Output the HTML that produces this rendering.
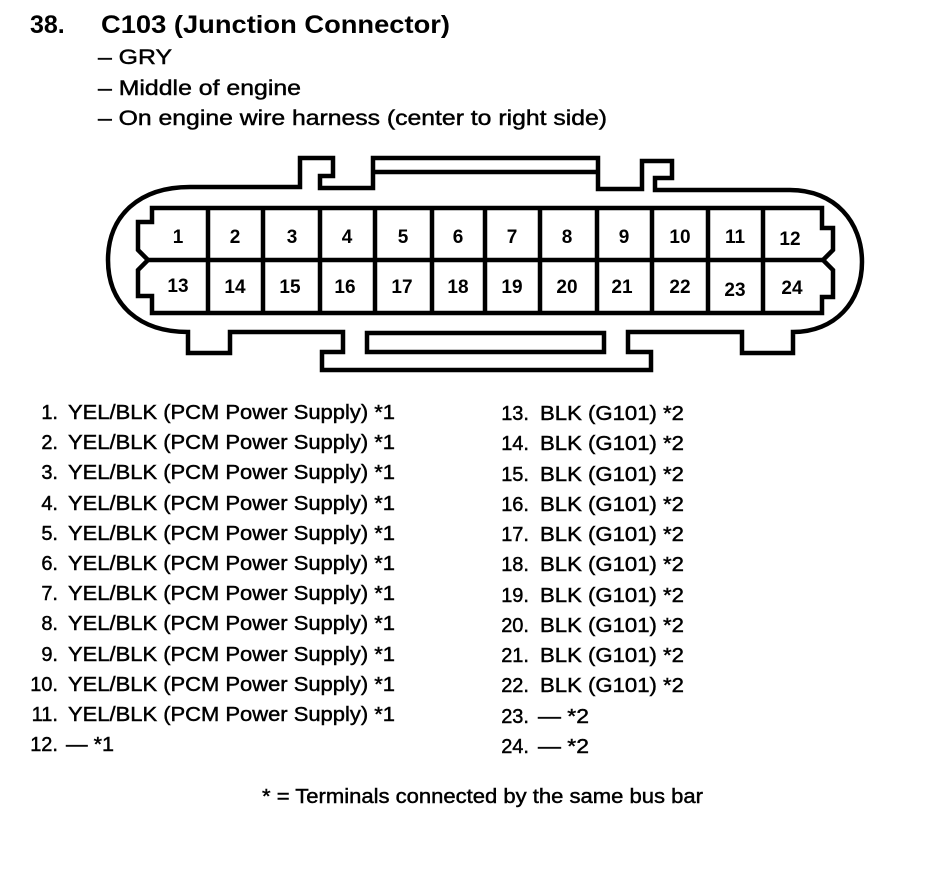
<!DOCTYPE html>
<html><head><meta charset="utf-8"><style>
html,body{margin:0;padding:0;background:#fff;}
svg{display:block;}
text{font-family:"Liberation Sans",Arial,sans-serif;fill:#000;}
.h{stroke:#000;stroke-width:0.45;}
</style></head><body>
<svg width="944" height="894" viewBox="0 0 944 894" xmlns="http://www.w3.org/2000/svg">
<g font-size="25" font-weight="bold">
<text x="30" y="33">38.</text>
<text x="101" y="33" textLength="349" lengthAdjust="spacingAndGlyphs">C103 (Junction Connector)</text>
</g>
<g font-size="21" class="h">
<text x="98" y="64" textLength="74" lengthAdjust="spacingAndGlyphs">– GRY</text>
<text x="98" y="95" textLength="203" lengthAdjust="spacingAndGlyphs">– Middle of engine</text>
<text x="98" y="125" textLength="509" lengthAdjust="spacingAndGlyphs">– On engine wire harness (center to right side)</text>
</g>
<g fill="none" stroke="#000" stroke-width="4.5" stroke-linejoin="miter">
<path d="M 300 187 L 300 158 L 333 158 L 333 176 L 320 176 L 320 188 L 373 188 L 373 158 L 598 158 L 598 189 L 642 189 L 642 161 L 672 161 L 672 178 L 655 178 L 655 190 L 790 190 C 835 190 862 222 862 262 C 862 302 835 332 793 332 L 793 353 L 742 353 L 742 332 L 628 332 L 628 352 L 651 352 L 651 370 L 322 370 L 322 352 L 343 352 L 343 332 L 230 332 L 230 353 L 188 353 L 188 332 C 140 332 108 305 108 260 C 108 215 140 187 190 187 Z"/>
<line x1="375" y1="172" x2="596" y2="172"/>
<rect x="367" y="333" width="237" height="19"/>
<path d="M 152 208 L 822 208 L 822 228 L 833 228 L 833 250 L 823 260 L 833 270 L 833 297 L 822 297 L 822 313 L 152 313 L 152 296 L 138 296 L 138 270 L 148 260 L 138 250 L 138 222 L 152 222 Z"/>
<line x1="148" y1="260" x2="823" y2="260"/>
<g>
<line x1="208" y1="208" x2="208" y2="313"/>
<line x1="263" y1="208" x2="263" y2="313"/>
<line x1="320" y1="208" x2="320" y2="313"/>
<line x1="375" y1="208" x2="375" y2="313"/>
<line x1="432" y1="208" x2="432" y2="313"/>
<line x1="485" y1="208" x2="485" y2="313"/>
<line x1="540" y1="208" x2="540" y2="313"/>
<line x1="597" y1="208" x2="597" y2="313"/>
<line x1="652" y1="208" x2="652" y2="313"/>
<line x1="708" y1="208" x2="708" y2="313"/>
<line x1="763" y1="208" x2="763" y2="313"/>
</g>
</g>
<g font-size="19" font-weight="bold" text-anchor="middle">
<text x="178" y="243">1</text><text x="235" y="243">2</text><text x="292" y="243">3</text><text x="347" y="243">4</text><text x="403" y="243">5</text><text x="458" y="243">6</text><text x="512" y="243">7</text><text x="567" y="243">8</text><text x="624" y="243">9</text><text x="680" y="243">10</text><text x="735" y="243">11</text><text x="790" y="245">12</text>
<text x="178" y="292">13</text><text x="235" y="293">14</text><text x="290" y="293">15</text><text x="345" y="293">16</text><text x="402" y="293">17</text><text x="458" y="293">18</text><text x="512" y="293">19</text><text x="567" y="293">20</text><text x="622" y="293">21</text><text x="680" y="293">22</text><text x="735" y="296">23</text><text x="792" y="294">24</text>
</g>
<g font-size="20" class="h">
<g text-anchor="end">
<text x="58" y="419">1.</text><text x="58" y="449">2.</text><text x="58" y="479">3.</text><text x="58" y="510">4.</text><text x="58" y="540">5.</text><text x="58" y="570">6.</text><text x="58" y="600">7.</text><text x="58" y="630">8.</text><text x="58" y="661">9.</text><text x="58" y="691">10.</text><text x="58" y="721">11.</text><text x="58" y="751">12.</text>
<text x="529" y="420">13.</text><text x="529" y="450">14.</text><text x="529" y="481">15.</text><text x="529" y="511">16.</text><text x="529" y="541">17.</text><text x="529" y="571">18.</text><text x="529" y="602">19.</text><text x="529" y="632">20.</text><text x="529" y="662">21.</text><text x="529" y="692">22.</text><text x="529" y="723">23.</text><text x="529" y="753">24.</text>
</g>
<g>
<text x="68" y="419" textLength="327" lengthAdjust="spacingAndGlyphs">YEL/BLK (PCM Power Supply) *1</text>
<text x="68" y="449" textLength="327" lengthAdjust="spacingAndGlyphs">YEL/BLK (PCM Power Supply) *1</text>
<text x="68" y="479" textLength="327" lengthAdjust="spacingAndGlyphs">YEL/BLK (PCM Power Supply) *1</text>
<text x="68" y="510" textLength="327" lengthAdjust="spacingAndGlyphs">YEL/BLK (PCM Power Supply) *1</text>
<text x="68" y="540" textLength="327" lengthAdjust="spacingAndGlyphs">YEL/BLK (PCM Power Supply) *1</text>
<text x="68" y="570" textLength="327" lengthAdjust="spacingAndGlyphs">YEL/BLK (PCM Power Supply) *1</text>
<text x="68" y="600" textLength="327" lengthAdjust="spacingAndGlyphs">YEL/BLK (PCM Power Supply) *1</text>
<text x="68" y="630" textLength="327" lengthAdjust="spacingAndGlyphs">YEL/BLK (PCM Power Supply) *1</text>
<text x="68" y="661" textLength="327" lengthAdjust="spacingAndGlyphs">YEL/BLK (PCM Power Supply) *1</text>
<text x="68" y="691" textLength="327" lengthAdjust="spacingAndGlyphs">YEL/BLK (PCM Power Supply) *1</text>
<text x="68" y="721" textLength="327" lengthAdjust="spacingAndGlyphs">YEL/BLK (PCM Power Supply) *1</text>
<text x="66" y="751" textLength="48" lengthAdjust="spacingAndGlyphs">— *1</text>
<text x="540" y="420" textLength="144" lengthAdjust="spacingAndGlyphs">BLK (G101) *2</text>
<text x="540" y="450" textLength="144" lengthAdjust="spacingAndGlyphs">BLK (G101) *2</text>
<text x="540" y="481" textLength="144" lengthAdjust="spacingAndGlyphs">BLK (G101) *2</text>
<text x="540" y="511" textLength="144" lengthAdjust="spacingAndGlyphs">BLK (G101) *2</text>
<text x="540" y="541" textLength="144" lengthAdjust="spacingAndGlyphs">BLK (G101) *2</text>
<text x="540" y="571" textLength="144" lengthAdjust="spacingAndGlyphs">BLK (G101) *2</text>
<text x="540" y="602" textLength="144" lengthAdjust="spacingAndGlyphs">BLK (G101) *2</text>
<text x="540" y="632" textLength="144" lengthAdjust="spacingAndGlyphs">BLK (G101) *2</text>
<text x="540" y="662" textLength="144" lengthAdjust="spacingAndGlyphs">BLK (G101) *2</text>
<text x="540" y="692" textLength="144" lengthAdjust="spacingAndGlyphs">BLK (G101) *2</text>
<text x="538" y="723" textLength="51" lengthAdjust="spacingAndGlyphs">— *2</text>
<text x="538" y="753" textLength="51" lengthAdjust="spacingAndGlyphs">— *2</text>
</g>
<text x="262" y="803" textLength="441" lengthAdjust="spacingAndGlyphs">* = Terminals connected by the same bus bar</text>
</g>
</svg>
</body></html>
